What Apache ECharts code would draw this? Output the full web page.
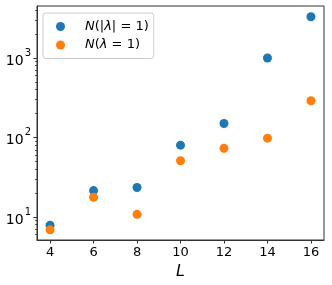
<!DOCTYPE html>
<html><head><meta charset="utf-8">
<script src="https://cdn.jsdelivr.net/npm/echarts@6/dist/echarts.min.js"></script>
<style>html,body{margin:0;padding:0;background:#fff}#c{width:332px;height:285px}</style>
</head><body><div id="c"></div>
<script>
const L = [4, 6, 8, 10, 12, 14, 16];
const absLambda = [7.9, 21.5, 23.5, 80, 150, 1000, 3300];
const lambda1 = [6.9, 17.7, 10.8, 51, 73, 98, 290];
const xTicks = [4, 6, 8, 10, 12, 14, 16];
const yMajor = [10, 100, 1000];
const yMinor = [6, 7, 8, 9, 20, 30, 40, 50, 60, 70, 80, 90, 200, 300, 400, 500, 600, 700, 800, 900, 2000, 3000, 4000];
const seriesNames = ['N(|λ|=1)', 'N(λ=1)'];

const FONT = 'DejaVu Sans';
const axisColor = '#333';
const chart = echarts.init(document.getElementById('c'), null, {renderer: 'canvas'});
const legendRich = {
  i: {fontFamily: FONT, fontStyle: 'italic', fontSize: 13, color: '#000', lineHeight: 15},
  n: {fontFamily: FONT, fontSize: 13, color: '#000', lineHeight: 15}
};
function legendFmt(name) {
  if (name === seriesNames[0]) return '{i|N}{n|(|}{i|λ}{n|| = 1)}';
  return '{i|N}{n|(}{i|λ}{n| = 1)}';
}
const yMin = 5.14, yMax = 4500;
chart.setOption({
  animation: false,
  grid: {left: 37, right: 8, top: 6, bottom: 45},
  legend: {
    orient: 'vertical', left: 43, top: 13,
    data: seriesNames.map(n => ({name: n, icon: 'circle'})),
    itemWidth: 9, itemHeight: 9, itemGap: 5.5,
    padding: [7, 5, 7, 13],
    backgroundColor: 'rgba(255,255,255,0.8)',
    borderColor: '#ccc', borderWidth: 1, borderRadius: 3,
    formatter: legendFmt,
    textStyle: {rich: legendRich, padding: [0, 0, 0, 15]}
  },
  xAxis: {
    type: 'value', min: 3.4, max: 16.6,
    name: 'L', nameLocation: 'middle', nameGap: 15,
    nameTextStyle: {fontFamily: FONT, fontStyle: 'italic', fontSize: 16, color: '#000'},
    axisLine: {show: true, onZero: false, lineStyle: {color: axisColor, width: 1}},
    axisTick: {show: true, length: 3.5, lineStyle: {color: axisColor}, customValues: xTicks},
    axisLabel: {fontFamily: FONT, fontSize: 13, color: '#000', margin: 6, customValues: xTicks},
    splitLine: {show: false}
  },
  yAxis: [{
    type: 'log', logBase: 10, min: yMin, max: yMax,
    axisLine: {show: true, lineStyle: {color: axisColor, width: 1}},
    axisTick: {show: true, length: 3.5, lineStyle: {color: axisColor}, customValues: yMajor},
    axisLabel: {
      fontFamily: FONT, fontSize: 14, color: '#000', margin: 6, customValues: yMajor,
      formatter: v => '{b|10}{s|' + Math.round(Math.log10(v)) + '}',
      rich: {
        b: {fontFamily: FONT, fontSize: 14, color: '#000', verticalAlign: 'bottom', lineHeight: 20},
        s: {fontFamily: FONT, fontSize: 10, color: '#000', verticalAlign: 'top', lineHeight: 20, padding: [0, 0, 0, 1]}
      }
    },
    splitLine: {show: false}
  }, {
    type: 'log', logBase: 10, min: yMin, max: yMax, position: 'left',
    axisLine: {show: false},
    axisTick: {show: true, length: 2, lineStyle: {color: axisColor, width: 0.8}, customValues: yMinor},
    axisLabel: {show: false},
    splitLine: {show: false}
  }],
  graphic: [{
    type: 'rect', shape: {x: 37, y: 6, width: 287, height: 234},
    style: {fill: 'none', stroke: axisColor, lineWidth: 1}, silent: true, z: 0
  }],
  series: [
    {name: seriesNames[0], type: 'scatter', symbolSize: 9, itemStyle: {color: '#1f77b4', opacity: 1},
     data: L.map((x, i) => [x, absLambda[i]])},
    {name: seriesNames[1], type: 'scatter', symbolSize: 9, itemStyle: {color: '#ff7f0e', opacity: 1},
     data: L.map((x, i) => [x, lambda1[i]])}
  ]
});
</script></body></html>
